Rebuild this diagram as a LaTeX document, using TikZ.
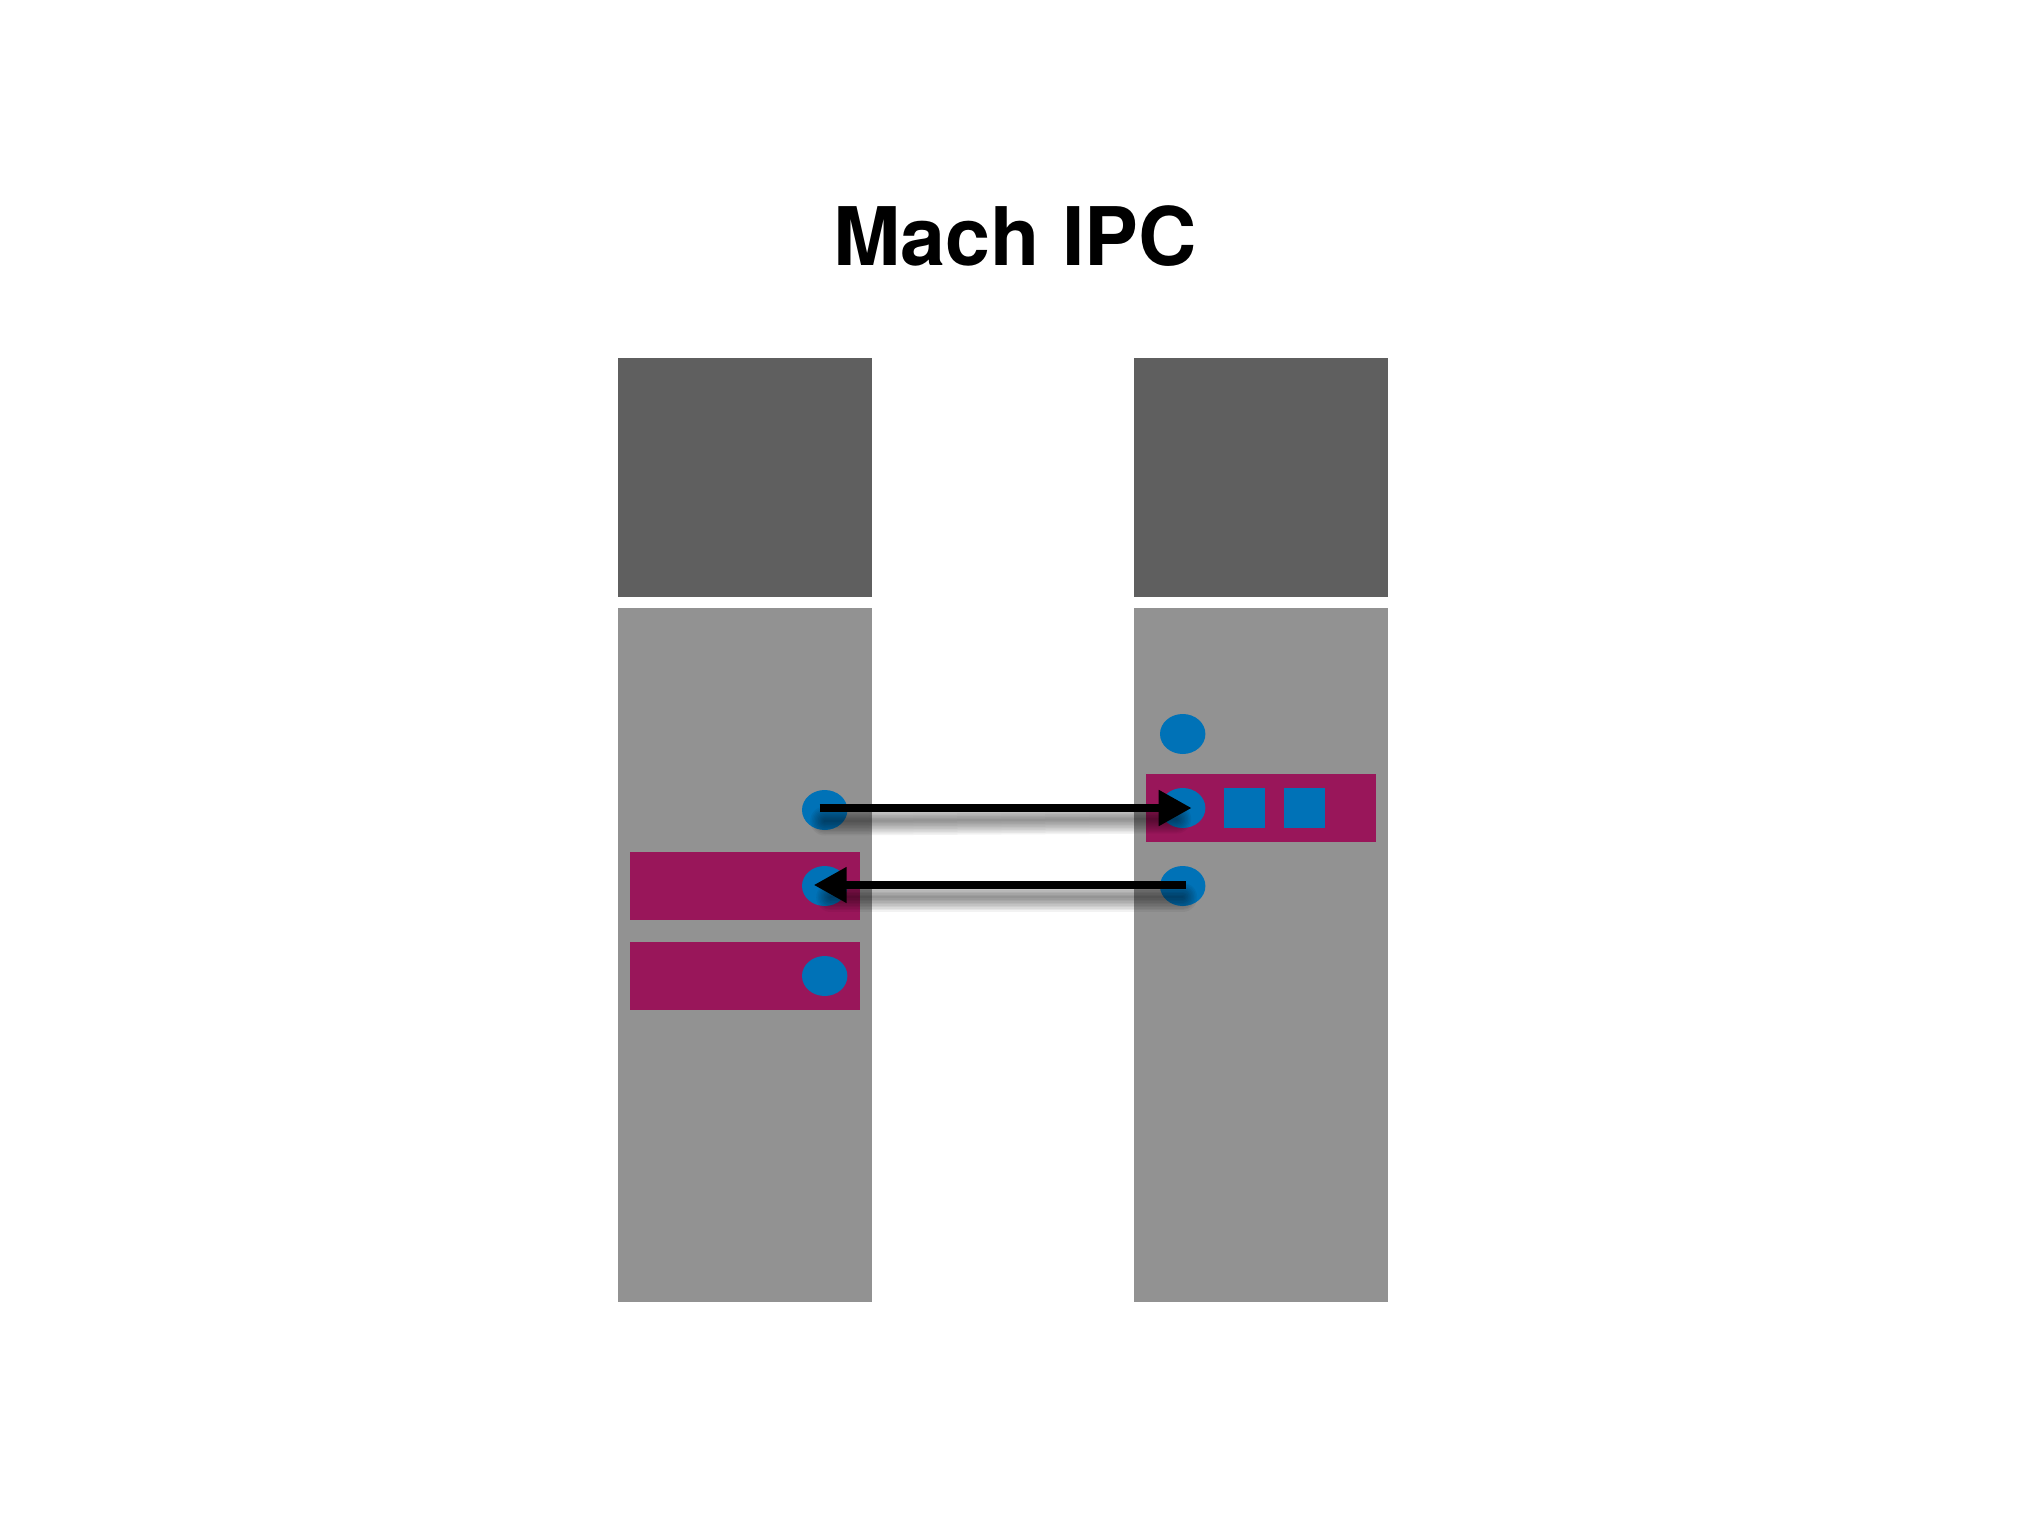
\documentclass[tikz,border=0pt]{standalone}
\usepackage{fontspec}
\setmainfont{TeX Gyre Heros}
\usetikzlibrary{arrows.meta,shapes.geometric,calc}
\definecolor{darkgr}{HTML}{5F5F5F}
\definecolor{lightgr}{HTML}{929292}
\definecolor{mag}{HTML}{99165A}
\definecolor{portblue}{HTML}{0072B7}
\begin{document}
\begin{tikzpicture}[x=0.5pt,y=-0.5pt,
  box/.style={anchor=north west,inner sep=0pt,outer sep=0pt,draw=none},
  darkbox/.style={box,fill=darkgr,minimum width=127pt,minimum height=119.5pt},
  lightbox/.style={box,fill=lightgr,minimum width=127pt,minimum height=347pt},
  msgbox/.style={box,fill=mag,minimum width=115pt,minimum height=34pt},
  sqport/.style={box,fill=portblue,minimum width=20.5pt,minimum height=20pt},
  port/.style={ellipse,fill=portblue,inner sep=0pt,minimum width=22.7pt,minimum height=20pt},
  arr/.style={line width=4pt,-{Triangle[length=16.5pt,width=17pt]}},
  shad/.style={black,line cap=round}]
\useasboundingbox (0,0) rectangle (2034,1518);
\fill[white] (0,0) rectangle (2034,1518);

\node[anchor=base,font=\bfseries\fontsize{40.4}{48}\selectfont] (title) at (1015,266) {Mach IPC};

\node[darkbox] (ltop) at (618,358) {};
\node[lightbox] (lbot) at (618,608) {};
\node[darkbox] (rtop) at (1134,358) {};
\node[lightbox] (rbot) at (1134,608) {};

\node[msgbox] (lm1) at (630,852) {};
\node[msgbox] (lm2) at (630,942) {};
\node[msgbox] (rm1) at (1146,774) {};
\node[sqport] (sq1) at (1224,788) {};
\node[sqport] (sq2) at (1284,788) {};

\node[port] (l1) at (824.7,810) {};
\node[port] (l2) at (824.7,886) {};
\node[port] (l3) at (824.7,976) {};
\node[port] (r1) at (1182.7,734) {};
\node[port] (r2) at (1182.7,808) {};
\node[port] (r3) at (1182.7,886) {};

% soft shadows below the arrows
\foreach \w in {2,5,8,11,14,17,20,23,26,29}{
  \draw[shad,opacity=0.05,line width=\w*0.5pt] ($(l1.center)+(0,11)$) -- ($(r2.center)+(-6,11)$);
  \draw[shad,opacity=0.05,line width=\w*0.5pt] ($(r3.center)+(0,11)$) -- ($(l2.center)+(6,11)$);
}

\draw[arr] ($(l1.center)+(-5,-2)$) -- ($(r2.center)+(9,0)$);
\draw[arr] ($(r3.center)+(3,-1)$) -- ($(l2.center)+(-11,-1)$);
\end{tikzpicture}
\end{document}
